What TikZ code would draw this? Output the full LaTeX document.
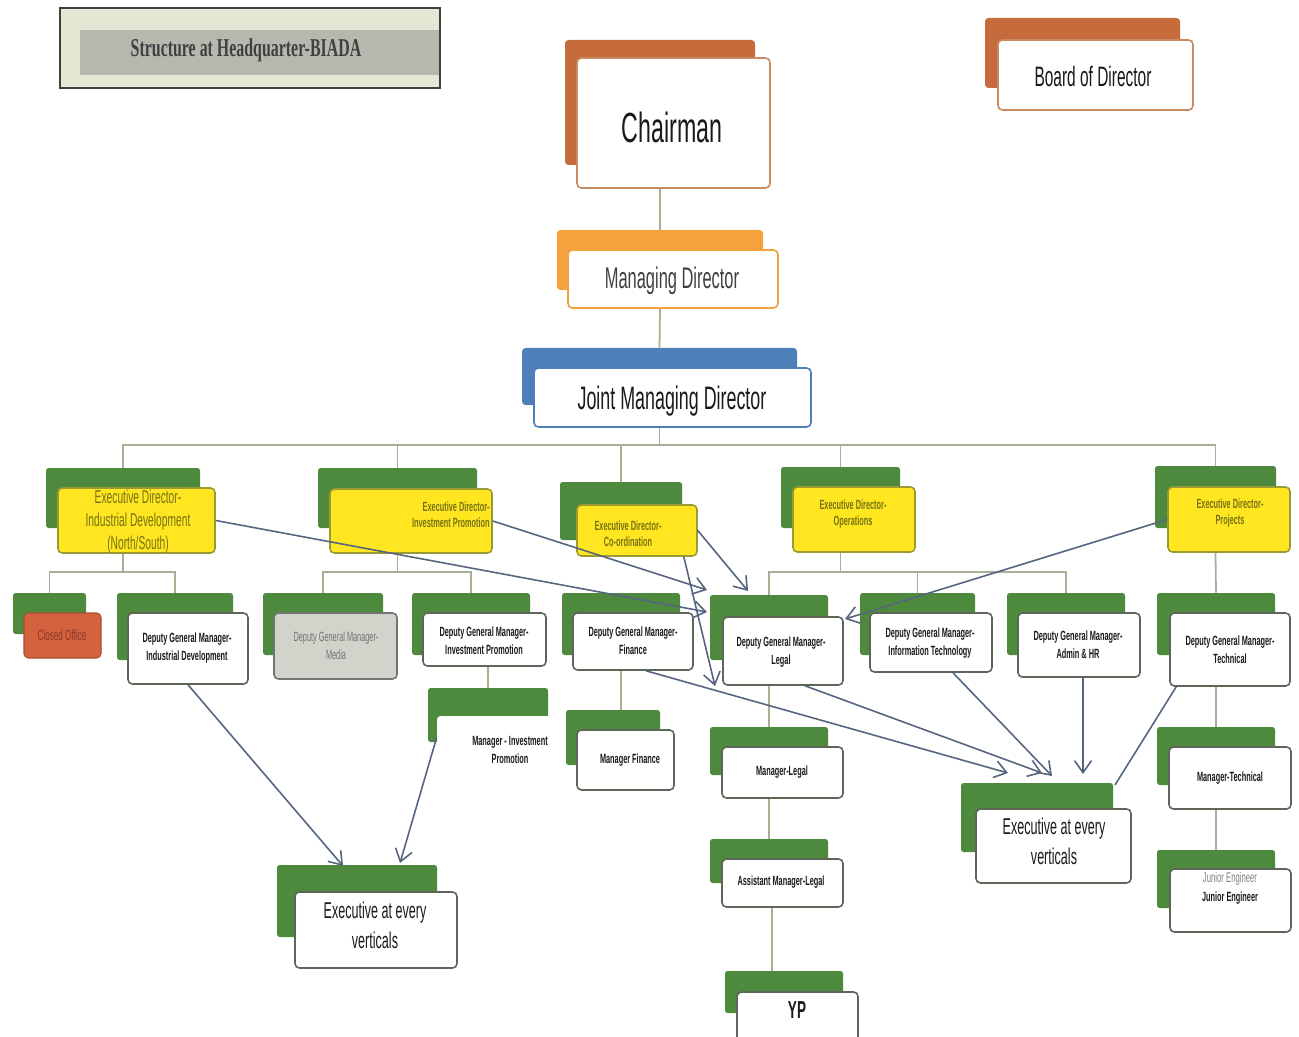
\documentclass[tikz,border=0pt]{standalone}
\usepackage{fontspec}
\setmainfont{Liberation Sans}
\newfontfamily\nar[FakeStretch=0.55]{Liberation Sans}
\newfontfamily\sernar[FakeStretch=0.62]{Liberation Serif}
\usetikzlibrary{fit,arrows.meta,calc}
\definecolor{gbk}{HTML}{4E8A3E}
\definecolor{ylw}{HTML}{FFE620}
\definecolor{ylwb}{HTML}{9A9A34}
\definecolor{edtc}{HTML}{767214}
\definecolor{brn}{HTML}{C56B3C}
\definecolor{brnl}{HTML}{C88A60}
\definecolor{org}{HTML}{F3A23E}
\definecolor{blu}{HTML}{4F7FB8}
\definecolor{lnc}{HTML}{A7B095}
\definecolor{arc}{HTML}{55657F}
\definecolor{fbd}{HTML}{5E665A}
\definecolor{txc}{HTML}{1A1A1A}
\definecolor{clo}{HTML}{D4623E}
\definecolor{clot}{HTML}{8A3A28}
\definecolor{ttlbg}{HTML}{E4E7D4}
\definecolor{ttlband}{HTML}{B6B8AE}
\definecolor{ttlbd}{HTML}{404040}
\definecolor{medf}{HTML}{D2D3CB}
\tikzset{
 bk/.style={fill=gbk, rounded corners=1.5pt, inner sep=0pt, draw=none},
 wf/.style={fill=white, draw=fbd, line width=0.9pt, rounded corners=2.5pt, inner sep=0pt},
 yf/.style={fill=ylw, draw=ylwb, line width=0.9pt, rounded corners=2.5pt, inner sep=0pt},
 tx/.style={inner sep=0pt, align=center, text=txc},
 txs/.style={tx, font=\nar\bfseries\fontsize{7.6}{10.2}\selectfont},
 txed/.style={tx, text=edtc, font=\nar\bfseries\fontsize{7.6}{9.2}\selectfont},
 txx/.style={tx, font=\nar\fontsize{13}{17}\selectfont},
 ln/.style={draw=lnc, line width=1pt},
 ar/.style={draw=arc, line width=0.9pt, -{Straight Barb[length=2.4mm,width=3.4mm]}},
}
\begin{document}
\begin{tikzpicture}[x=0.02cm,y=-0.02cm]
\useasboundingbox (0,0) rectangle (1299,1037);
\clip (0,0) rectangle (1299,1037);
\fill[white] (0,0) rectangle (1299,1037);

% title
\node[fill=ttlbg, draw=ttlbd, line width=1pt, inner sep=0pt, fit={(60,8)(440,88)}] (ttl-o) {};
\node[fill=ttlband, inner sep=0pt, fit={(80,30)(439,75)}] (ttl-b) {};
\node[inner sep=0pt, text=ttlbd, font=\sernar\bfseries\fontsize{14.6}{16}\selectfont] (ttl-t) at (246,50) {Structure at Headquarter-BIADA};

% board
\node[fill=brn, rounded corners=2pt, inner sep=0pt, fit={(985,18)(1180,88)}] (bod-b) {};
\node[fill=white, draw=brnl, line width=0.9pt, rounded corners=2.5pt, inner sep=0pt, fit={(998,40)(1193,110)}] (bod-f) {};
\node[tx, font=\nar\fontsize{16}{18}\selectfont] (bod-t) at (1093,76) {Board of Director};

% chairman
\node[fill=brn, rounded corners=2pt, inner sep=0pt, fit={(565,40)(755,165)}] (chair-b) {};
\node[fill=white, draw=brnl, line width=0.9pt, rounded corners=2.5pt, inner sep=0pt, fit={(577,58)(770,188)}] (chair-f) {};
\node[tx, font=\nar\fontsize{24}{26}\selectfont] (chair-t) at (672,127) {Chairman};

% managing director
\node[fill=org, rounded corners=2pt, inner sep=0pt, fit={(557,230)(763,290)}] (md-b) {};
\node[fill=white, draw=org, line width=0.9pt, rounded corners=2.5pt, inner sep=0pt, fit={(568,250)(778,308)}] (md-f) {};
\node[tx, font=\nar\fontsize{17}{19}\selectfont, text=black!75] (md-t) at (672,281) {Managing Director};

% joint managing director
\node[fill=blu, rounded corners=2pt, inner sep=0pt, fit={(522,348)(797,405)}] (jmd-b) {};
\node[fill=white, draw=blu, line width=0.9pt, rounded corners=2.5pt, inner sep=0pt, fit={(534,368)(811,427)}] (jmd-f) {};
\node[tx, font=\nar\fontsize{18.5}{20}\selectfont] (jmd-t) at (672,401) {Joint Managing Director};

% executive directors
\node[bk, fit={(46,468)(200,528)}] (ed1-b) {};
\node[yf, fit={(58,488)(215,553)}] (ed1-f) {};
\node[tx, text=edtc, font=\nar\fontsize{10.6}{13}\selectfont] (ed1-t) at (138,522) {Executive Director-\\Industrial Development\\(North/South)};

\node[bk, fit={(318,468)(477,528)}] (edip-b) {};
\node[yf, fit={(330,489)(492,553)}] (edip-f) {};
\node[txed, align=right, anchor=east] (edip-t) at (490,515) {Executive Director-\\Investment Promotion};

\node[bk, fit={(560,482)(682,540)}] (edco-b) {};
\node[yf, fit={(577,505)(697,556)}] (edco-f) {};
\node[txed] (edco-t) at (628,534) {Executive Director-\\Co-ordination};

\node[bk, fit={(781,467)(900,528)}] (edop-b) {};
\node[yf, fit={(793,487)(915,552)}] (edop-f) {};
\node[txed] (edop-t) at (853,514) {Executive Director-\\Operations};

\node[bk, fit={(1155,466)(1276,528)}] (edpr-b) {};
\node[yf, fit={(1168,487)(1290,552)}] (edpr-f) {};
\node[txed] (edpr-t) at (1230,513) {Executive Director-\\Projects};

% level 2
\node[bk, fit={(13,593)(86,634)}] (co-b) {};
\node[fill=clo, draw=clo!80!black, line width=0.6pt, rounded corners=2.5pt, inner sep=0pt, fit={(24,613)(101,658)}] (co-f) {};
\node[tx, text=clot, font=\nar\fontsize{8.4}{10}\selectfont] (co-t) at (62,635) {Closed Office};

\node[bk, fit={(117,593)(233,660)}] (dgmid-b) {};
\node[wf, fit={(128,613)(248,684)}] (dgmid-f) {};
\node[txs] (dgmid-t) at (187,648) {Deputy General Manager-\\Industrial Development};

\node[bk, fit={(263,593)(383,655)}] (med-b) {};
\node[fill=medf, draw=black!55, line width=0.9pt, rounded corners=2.5pt, inner sep=0pt, fit={(274,613)(397,679)}] (med-f) {};
\node[tx, text=black!55, font=\nar\fontsize{7.6}{10.2}\selectfont] (med-t) at (336,646) {Deputy General Manager-\\Media};

\node[bk, fit={(412,593)(530,655)}] (dgmip-b) {};
\node[wf, fit={(423,613)(546,666)}] (dgmip-f) {};
\node[txs] (dgmip-t) at (484,641) {Deputy General Manager-\\Investment Promotion};

\node[bk, fit={(562,593)(680,655)}] (fin-b) {};
\node[wf, fit={(573,613)(693,670)}] (fin-f) {};
\node[txs] (fin-t) at (633,641) {Deputy General Manager-\\Finance};

\node[bk, fit={(710,595)(828,660)}] (leg-b) {};
\node[wf, fit={(723,617)(843,685)}] (leg-f) {};
\node[txs] (leg-t) at (781,652) {Deputy General Manager-\\Legal};

\node[bk, fit={(860,593)(975,655)}] (it-b) {};
\node[wf, fit={(870,613)(992,672)}] (it-f) {};
\node[txs] (it-t) at (930,643) {Deputy General Manager-\\Information Technology};

\node[bk, fit={(1007,593)(1125,655)}] (adm-b) {};
\node[wf, fit={(1018,613)(1140,677)}] (adm-f) {};
\node[txs] (adm-t) at (1078,645) {Deputy General Manager-\\Admin \& HR};

\node[bk, fit={(1157,593)(1275,655)}] (tech-b) {};
\node[wf, fit={(1170,613)(1290,686)}] (tech-f) {};
\node[txs] (tech-t) at (1230,650) {Deputy General Manager-\\Technical};

% level 3
\node[bk, fit={(428,688)(548,742)}] (mip-b) {};
\node[fill=white, inner sep=0pt, rounded corners=2pt, fit={(437,716)(562,785)}] (mip-f) {};
\node[txs] (mip-t) at (510,750) {Manager - Investment\\Promotion};

\node[bk, fit={(566,710)(660,765)}] (mfin-b) {};
\node[wf, fit={(577,730)(674,790)}] (mfin-f) {};
\node[txs] (mfin-t) at (630,760) {Manager Finance};

\node[bk, fit={(710,727)(828,775)}] (ml-b) {};
\node[wf, fit={(722,747)(843,798)}] (ml-f) {};
\node[txs] (ml-t) at (782,772) {Manager-Legal};

\node[bk, fit={(710,839)(828,883)}] (aml-b) {};
\node[wf, fit={(722,859)(843,907)}] (aml-f) {};
\node[txs] (aml-t) at (781,882) {Assistant Manager-Legal};

\node[bk, fit={(725,971)(843,1013)}] (yp-b) {};
\node[wf, fit={(737,992)(858,1050)}] (yp-f) {};
\node[tx, font=\nar\bfseries\fontsize{14}{16}\selectfont] (yp-t) at (797,1010) {YP};

\node[bk, fit={(1157,727)(1275,785)}] (mt-b) {};
\node[wf, fit={(1169,747)(1291,809)}] (mt-f) {};
\node[txs] (mt-t) at (1230,778) {Manager-Technical};

\node[bk, fit={(1157,850)(1275,908)}] (je-b) {};
\node[wf, fit={(1170,869)(1291,932)}] (je-f) {};
\node[tx, text=black!50, font=\nar\fontsize{8}{10}\selectfont] (je-t1) at (1230,879) {Junior Engineer};
\node[txs] (je-t2) at (1230,898) {Junior Engineer};

\node[bk, fit={(961,783)(1113,852)}] (er-b) {};
\node[wf, fit={(976,809)(1131,883)}] (er-f) {};
\node[txx] (er-t) at (1054,841) {Executive at every\\verticals};

\node[bk, fit={(277,865)(437,937)}] (el-b) {};
\node[wf, fit={(295,892)(457,968)}] (el-f) {};
\node[txx] (el-t) at (375,925) {Executive at every\\verticals};

% tree connectors
\coordinate (busA) at (0,445);
\coordinate (busB) at (0,572);
\draw[ln] (chair-b.center |- chair-f.south) -- (md-b.north);
\draw[ln] (md-b.center |- md-f.south) -- (jmd-b.north);
\draw[ln] (jmd-b.center |- jmd-f.south) -- (jmd-b.center |- busA);
\draw[ln] (ed1-b.north) -- (ed1-b.north |- busA) -- (edpr-b.north |- busA) -- (edpr-b.north);
\draw[ln] (edip-b.north) -- (edip-b.north |- busA);
\draw[ln] (edco-b.north) -- (edco-b.north |- busA);
\draw[ln] (edop-b.north) -- (edop-b.north |- busA);

\draw[ln] (ed1-b.center |- ed1-f.south) -- (ed1-b.center |- busB);
\draw[ln] (co-b.north) -- (co-b.north |- busB) -- (dgmid-b.north |- busB) -- (dgmid-b.north);
\draw[ln] (edip-b.center |- edip-f.south) -- (edip-b.center |- busB);
\draw[ln] (med-b.north) -- (med-b.north |- busB) -- (dgmip-b.north |- busB) -- (dgmip-b.north);
\draw[ln] (edop-b.center |- edop-f.south) -- (edop-b.center |- busB);
\draw[ln] (leg-b.north) -- (leg-b.north |- busB) -- (adm-b.north |- busB) -- (adm-b.north);
\draw[ln] (it-b.north) -- (it-b.north |- busB);
\draw[ln] (edpr-b.center |- edpr-f.south) -- (tech-b.center |- tech-b.north);

\draw[ln] (mip-b.north |- dgmip-f.south) -- (mip-b.north);
\draw[ln] (fin-b.center |- fin-f.south) -- (fin-b.center |- mfin-b.north);
\draw[ln] (leg-b.center |- leg-f.south) -- (ml-b.north);
\draw[ln] (ml-b.center |- ml-f.south) -- (aml-b.north);
\draw[ln] ($(aml-b.center |- aml-f.south)+(3,0)$) -- ($(aml-b.center |- yp-b.north)+(3,0)$);
\draw[ln] (tech-b.center |- tech-f.south) -- (mt-b.north);
\draw[ln] (mt-b.center |- mt-f.south) -- (je-b.north);

% arrows
\coordinate (pA) at (707,612);
\coordinate (pB) at (707,590);
\coordinate (pC) at (748,591);
\coordinate (pD) at (715,686);
\coordinate (pE) at (845,619);
\coordinate (pF) at (1008,773);
\coordinate (pG) at (1042,773);
\coordinate (pH) at (1052,776);
\coordinate (pI) at (1083,774);
\coordinate (pJ) at (1115,785);
\coordinate (pK) at (343,866);
\coordinate (pL) at (400,863);

\draw[ar] (ed1-f.east) -- (pA);
\draw[ar] (edip-f.east) -- (pB);
\draw[ar] (edco-f.east) -- (pC);
\draw[ar] ($(edco-f.south east)+(-14,0)$) -- (pD);
\draw[ar] (edpr-f.west) -- (pE);
\draw[ar] ($(fin-f.south)+(13,0)$) -- (pF);
\draw[ar] ($(leg-f.south)+(22,0)$) -- (pG);
\draw[ar] ($(it-f.south)+(22,0)$) -- (pH);
\draw[ar] (pI |- adm-f.south) -- (pI);
\draw[draw=arc, line width=0.9pt] ($(tech-f.south west)+(7,0)$) -- (pJ);
\draw[ar] (dgmid-f.south) -- (pK);
\draw[ar] ($(mip-f.north west)+(0,22)$) -- (pL);
\end{tikzpicture}
\end{document}
